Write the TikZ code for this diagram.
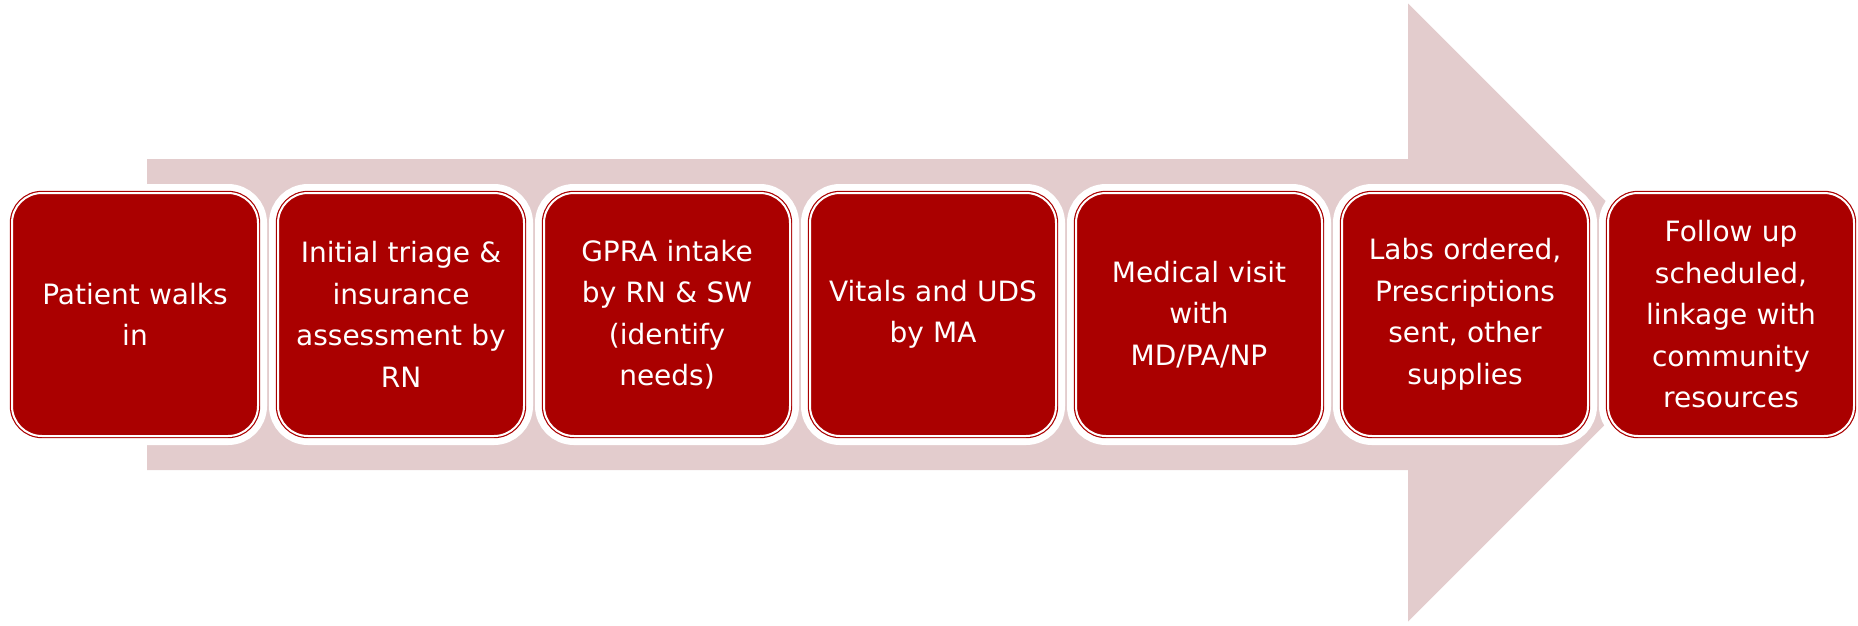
\documentclass[tikz,border=0pt]{standalone}
\usepackage{fontspec}
\setmainfont{DejaVu Sans}
\usepackage{tikz}
\usepackage{xcolor}
\definecolor{ColWhite}{RGB}{255,255,255}
\definecolor{ColBox}{RGB}{170,0,0}
\definecolor{ColArrow}{RGB}{227,204,205}
\tikzstyle{StepBox}=[rectangle,rounded corners=30pt,minimum width=246pt,minimum height=243pt,
text width=236pt,align=center,inner sep=0pt,fill=ColBox,draw=ColBox,double=ColWhite,
double distance=2pt,line width=1.2pt,text=ColWhite,font=\fontsize{28}{41.5}\selectfont,
preaction={draw=ColWhite,line width=18pt}]
\tikzstyle{ArrowBody}=[fill=ColArrow,draw=none]

\begin{document}
\begin{tikzpicture}[x=1pt,y=-1pt]
        \useasboundingbox(0,0)rectangle(1858,625);
        \fill[ArrowBody](147,159)--(1408,159)--(1408,3.5)--(1717,312.5)--(1408,621.5)--(1408,470)--(147,470)--cycle;
        \node[StepBox](walk)at(135,314.5){Patient walks\\in};
        \node[StepBox](triage)at(401,314.5){Initial triage \&\\insurance\\assessment by\\RN};
        \node[StepBox](gpra)at(667,314.5){GPRA intake\\by RN \& SW\\(identify\\needs)};
        \node[StepBox](vitals)at(933,314.5){Vitals and UDS\\by MA};
        \node[StepBox](visit)at(1199,314.5){Medical visit\\with\\MD/PA/NP};
        \node[StepBox](labs)at(1465,314.5){Labs ordered,\\Prescriptions\\sent, other\\supplies};
        \node[StepBox](follow)at(1731,314.5){Follow up\\scheduled,\\linkage with\\community\\resources};
    \end{tikzpicture}
\end{document}
